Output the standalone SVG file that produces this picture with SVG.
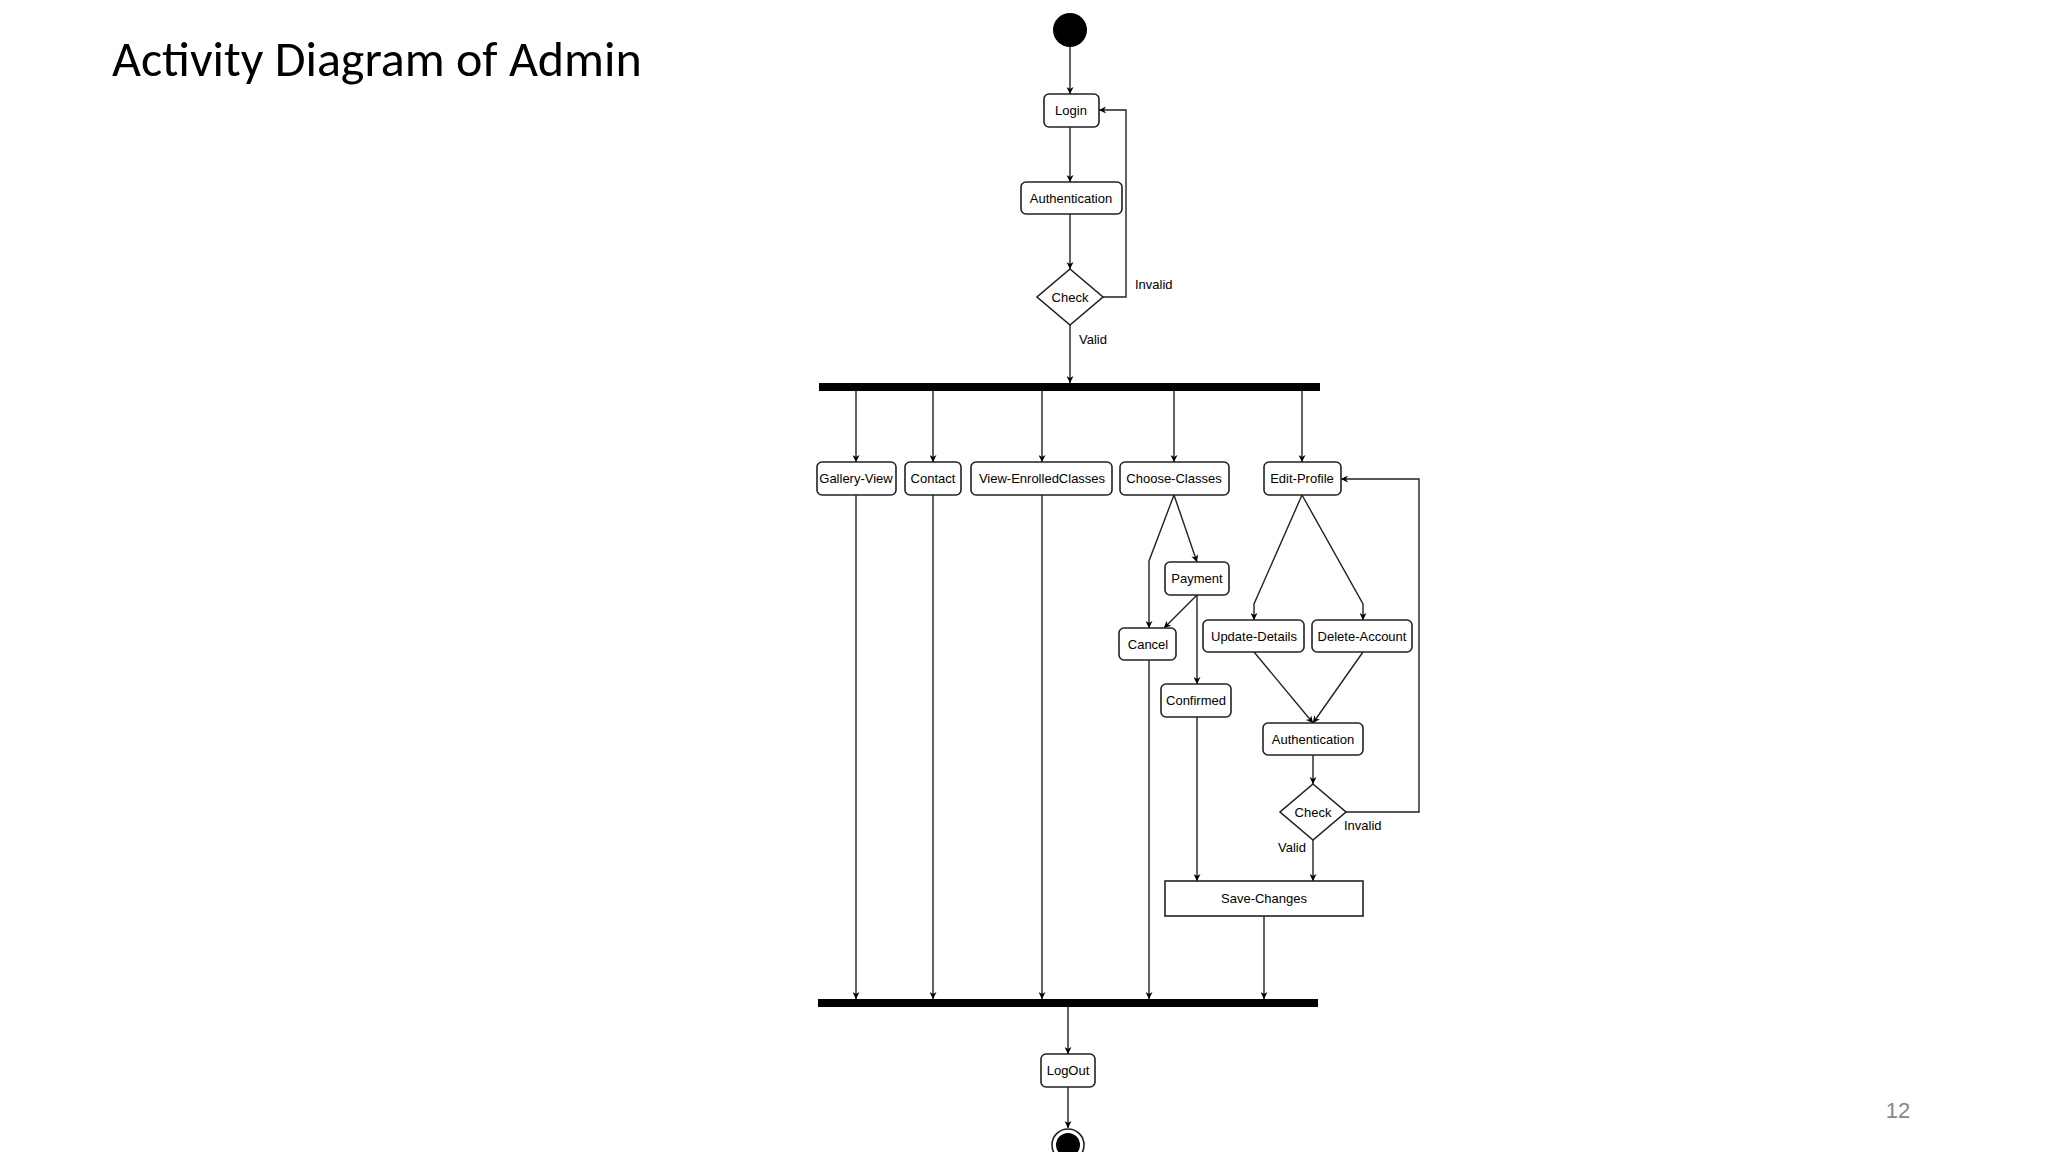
<svg xmlns="http://www.w3.org/2000/svg" width="2048" height="1152" viewBox="0 0 2048 1152">
<defs>
<marker id="ah" viewBox="0 0 10 10" refX="10" refY="5" markerWidth="7" markerHeight="7" orient="auto" markerUnits="userSpaceOnUse">
<path d="M0,0 L10,5 L0,10 L3,5 z" fill="#000"/>
</marker>
<style>
.n{fill:#fff;stroke:#222;stroke-width:1.6}
.t{font-family:"Liberation Sans",Arial,sans-serif;font-size:13px;fill:#000;text-anchor:middle}
.l{font-family:"Liberation Sans",Arial,sans-serif;font-size:13px;fill:#000}
.c{fill:none;stroke:#222;stroke-width:1.4;marker-end:url(#ah)}
.p{fill:none;stroke:#222;stroke-width:1.4}
.bar{fill:#000}
</style>
</defs>
<rect width="2048" height="1152" fill="#fff"/>
<text x="112" y="76" font-family="Calibri,'Liberation Sans',sans-serif" font-size="50" fill="#000">Activity Diagram of Admin</text>
<text x="1898" y="1118" font-family="'Liberation Sans',sans-serif" font-size="22" fill="#888" text-anchor="middle">12</text>

<g id="connectors">
<path class="c" d="M1070,47 V94"/>
<path class="c" d="M1070,127 V182"/>
<path class="c" d="M1070,214 V269"/>
<path class="c" d="M1103,297 H1126 V110 H1099"/>
<path class="c" d="M1070,325 V383"/>
<path class="c" d="M856,391 V462"/>
<path class="c" d="M933,391 V462"/>
<path class="c" d="M1042,391 V462"/>
<path class="c" d="M1174,391 V462"/>
<path class="c" d="M1302,391 V462"/>
<path class="c" d="M1174,495 L1149,561 V628"/>
<path class="c" d="M1174,495 L1197,562"/>
<path class="c" d="M1197,595 L1164,628"/>
<path class="c" d="M1197,595 V684"/>
<path class="c" d="M1197,717 V881"/>
<path class="c" d="M1302,495 L1254,604 V620"/>
<path class="c" d="M1302,495 L1363,604 V620"/>
<path class="c" d="M1254,652 L1313,723"/>
<path class="c" d="M1363,652 L1313,723"/>
<path class="c" d="M1313,755 V784"/>
<path class="c" d="M1346,812 H1419 V479 H1341"/>
<path class="c" d="M1313,840 V881"/>
<path class="c" d="M856,495 V999"/>
<path class="c" d="M933,495 V999"/>
<path class="c" d="M1042,495 V999"/>
<path class="c" d="M1149,660 V999"/>
<path class="c" d="M1264,916 V999"/>
<path class="c" d="M1068,1007 V1054"/>
<path class="c" d="M1068,1087 V1128"/>
<text class="l" x="1135" y="289">Invalid</text>
<text class="l" x="1079" y="344">Valid</text>
<text class="l" x="1344" y="830">Invalid</text>
<text class="l" x="1306" y="852" text-anchor="end">Valid</text>
</g>

<g id="start"><circle cx="1070" cy="30" r="17" fill="#000"/></g>
<g id="login"><rect class="n" x="1044" y="94" width="55" height="33" rx="5"/><text class="t" x="1071" y="115">Login</text></g>
<g id="auth1"><rect class="n" x="1021" y="182" width="101" height="32" rx="5"/><text class="t" x="1071" y="203">Authentication</text></g>
<g id="check1"><polygon class="n" points="1070,269 1103,297 1070,325 1037,297"/><text class="t" x="1070" y="302">Check</text></g>
<g id="fork"><rect class="bar" x="819" y="383" width="501" height="8"/></g>
<g id="gallery"><rect class="n" x="817" y="462" width="79" height="33" rx="5"/><text class="t" x="856" y="483">Gallery-View</text></g>
<g id="contact"><rect class="n" x="905" y="462" width="56" height="33" rx="5"/><text class="t" x="933" y="483">Contact</text></g>
<g id="enrolled"><rect class="n" x="971" y="462" width="141" height="33" rx="5"/><text class="t" x="1042" y="483">View-EnrolledClasses</text></g>
<g id="choose"><rect class="n" x="1120" y="462" width="109" height="33" rx="5"/><text class="t" x="1174" y="483">Choose-Classes</text></g>
<g id="edit"><rect class="n" x="1264" y="462" width="77" height="33" rx="5"/><text class="t" x="1302" y="483">Edit-Profile</text></g>
<g id="payment"><rect class="n" x="1165" y="562" width="64" height="33" rx="5"/><text class="t" x="1197" y="583">Payment</text></g>
<g id="cancel"><rect class="n" x="1119" y="628" width="57" height="32" rx="5"/><text class="t" x="1148" y="649">Cancel</text></g>
<g id="confirmed"><rect class="n" x="1161" y="684" width="70" height="33" rx="5"/><text class="t" x="1196" y="705">Confirmed</text></g>
<g id="update"><rect class="n" x="1203" y="620" width="101" height="32" rx="5"/><text class="t" x="1254" y="641">Update-Details</text></g>
<g id="delete"><rect class="n" x="1312" y="620" width="100" height="32" rx="5"/><text class="t" x="1362" y="641">Delete-Account</text></g>
<g id="auth2"><rect class="n" x="1263" y="723" width="100" height="32" rx="5"/><text class="t" x="1313" y="744">Authentication</text></g>
<g id="check2"><polygon class="n" points="1313,784 1346,812 1313,840 1280,812"/><text class="t" x="1313" y="817">Check</text></g>
<g id="save"><rect class="n" x="1165" y="881" width="198" height="35"/><text class="t" x="1264" y="903">Save-Changes</text></g>
<g id="join"><rect class="bar" x="818" y="999" width="500" height="8"/></g>
<g id="logout"><rect class="n" x="1041" y="1054" width="54" height="33" rx="5"/><text class="t" x="1068" y="1075">LogOut</text></g>
<g id="end"><circle cx="1068" cy="1145" r="16" fill="#fff" stroke="#222" stroke-width="1.6"/><circle cx="1068" cy="1145" r="12" fill="#000"/></g>
</svg>
